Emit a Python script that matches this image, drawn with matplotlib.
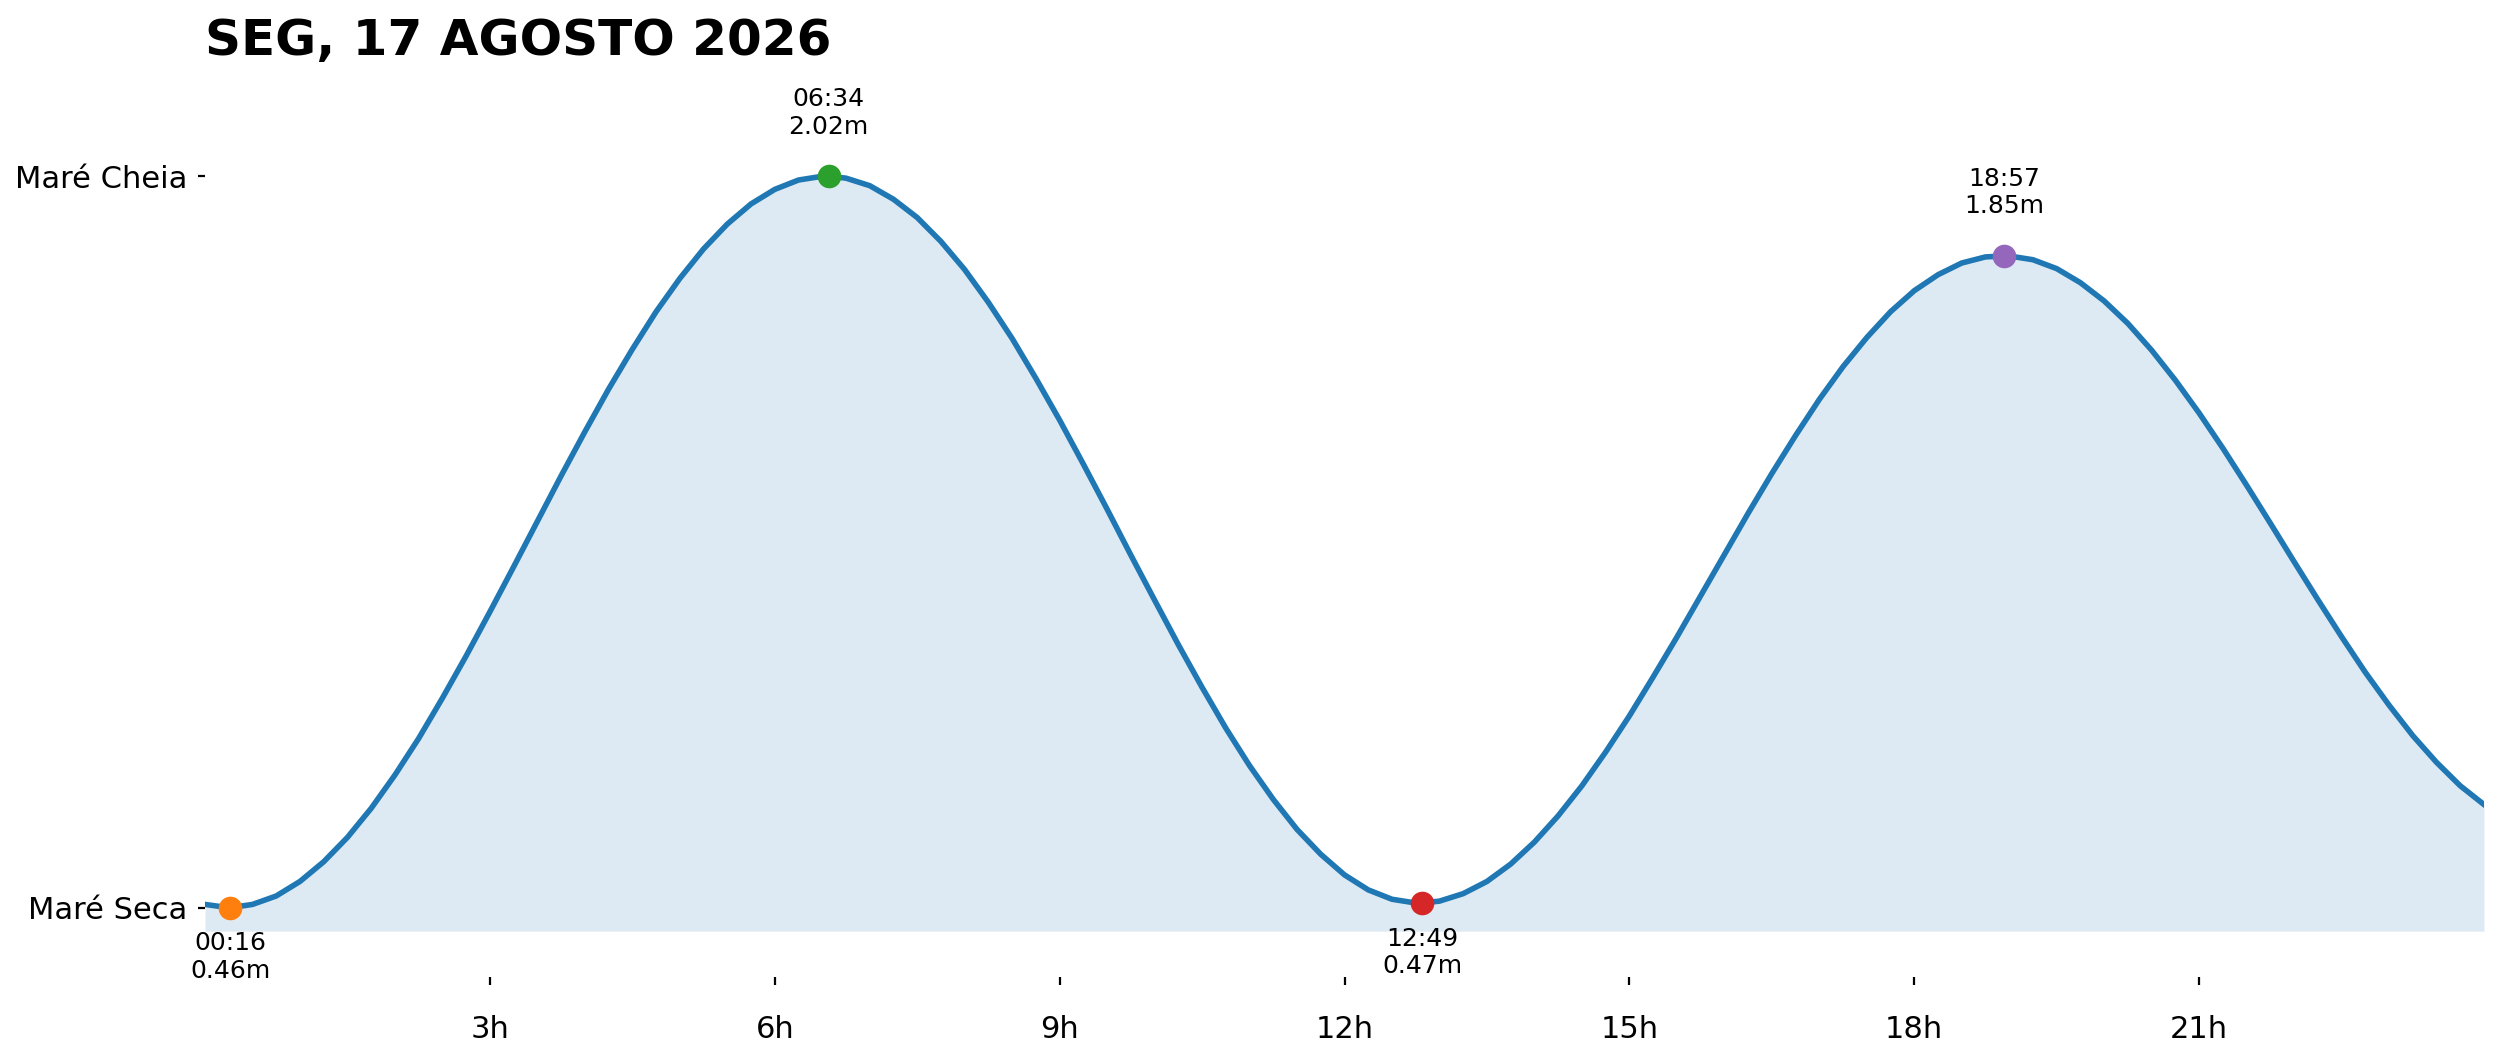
import matplotlib
matplotlib.use("Agg")
import matplotlib.pyplot as plt

# ---- data (every 15 minutes plus the extremes) ----
title = "SEG, 17 AGOSTO 2026"

hours = [0.0, 0.25, 16/60, 0.5, 0.75, 1.0, 1.25, 1.5, 1.75, 2.0, 2.25, 2.5, 2.75, 3.0, 3.25, 3.5, 3.75,
         4.0, 4.25, 4.5, 4.75, 5.0, 5.25, 5.5, 5.75, 6.0, 6.25, 6.5, 6 + 34/60,
         6.75, 7.0, 7.25, 7.5, 7.75, 8.0, 8.25, 8.5, 8.75, 9.0, 9.25, 9.5, 9.75,
         10.0, 10.25, 10.5, 10.75, 11.0, 11.25, 11.5, 11.75, 12.0, 12.25, 12.5, 12.75, 12 + 49/60,
         13.0, 13.25, 13.5, 13.75, 14.0, 14.25, 14.5, 14.75, 15.0, 15.25, 15.5, 15.75,
         16.0, 16.25, 16.5, 16.75, 17.0, 17.25, 17.5, 17.75, 18.0, 18.25, 18.5, 18.75, 18 + 57/60,
         19.0, 19.25, 19.5, 19.75, 20.0, 20.25, 20.5, 20.75, 21.0, 21.25, 21.5, 21.75,
         22.0, 22.25, 22.5, 22.75, 23.0, 23.25, 23.5, 23.75, 24.0]
heights = [0.467, 0.460, 0.460, 0.467, 0.485, 0.516, 0.558, 0.610, 0.672, 0.743, 0.821, 0.907, 0.997, 1.091, 1.187, 1.284, 1.381,
           1.475, 1.566, 1.651, 1.731, 1.802, 1.865, 1.918, 1.961, 1.992, 2.012, 2.020, 2.020,
           2.016, 2.000, 1.971, 1.932, 1.881, 1.821, 1.751, 1.674, 1.589, 1.500, 1.406, 1.310, 1.212,
           1.116, 1.021, 0.930, 0.843, 0.763, 0.691, 0.627, 0.574, 0.530, 0.498, 0.478, 0.470, 0.470,
           0.474, 0.490, 0.516, 0.553, 0.600, 0.656, 0.720, 0.792, 0.869, 0.952, 1.037, 1.125,
           1.213, 1.301, 1.386, 1.467, 1.544, 1.614, 1.676, 1.731, 1.776, 1.810, 1.835, 1.848, 1.850,
           1.850, 1.842, 1.823, 1.793, 1.754, 1.706, 1.649, 1.585, 1.515, 1.440, 1.361, 1.280,
           1.198, 1.117, 1.038, 0.962, 0.892, 0.827, 0.770, 0.720, 0.680]

ext_labels = ["00:16", "06:34", "12:49", "18:57"]
ext_heights = [0.46, 2.02, 0.47, 1.85]
ext_is_high = [False, True, False, True]
ext_colors = ["tab:orange", "tab:green", "tab:red", "tab:purple"]

xtick_vals = [3, 6, 9, 12, 15, 18, 21]
xtick_labels = ["3h", "6h", "9h", "12h", "15h", "18h", "21h"]
ytick_labels = ["Maré Seca", "Maré Cheia"]

# ---- figure ----
W, H = 2501, 1062
fig = plt.figure(figsize=(W / 200, H / 200), dpi=200)
ax_left, ax_right, ax_top, ax_bottom = 205, 2484, 72, 977
ax = fig.add_axes([ax_left / W, (H - ax_bottom) / H, (ax_right - ax_left) / W, (ax_bottom - ax_top) / H])

lo, hi = min(ext_heights), max(ext_heights)
ax.plot(hours, heights, color="tab:blue", lw=2, zorder=2, solid_joinstyle="round")
ax.fill_between(hours, heights, lo - 0.05, color="tab:blue", alpha=0.15, lw=0, zorder=1)

for lab, h, is_high, c in zip(ext_labels, ext_heights, ext_is_high, ext_colors):
    hh, mm = lab.split(":")
    t = int(hh) + int(mm) / 60
    ax.plot([t], [h], "o", color=c, markersize=7.5, zorder=3)
    txt = f"{lab}\n{h:.2f}m"
    if is_high:
        ax.annotate(txt, (t, h), xytext=(0, 13.5), textcoords="offset points",
                    ha="center", va="bottom", fontsize=9, annotation_clip=False)
    else:
        ax.annotate(txt, (t, h), xytext=(0, -8.5), textcoords="offset points",
                    ha="center", va="top", fontsize=9, annotation_clip=False)

ax.set_xlim(0, 24)
ax.set_ylim(0.3122, 2.2424)
ax.set_xticks(xtick_vals)
ax.set_xticklabels(xtick_labels, fontsize=11)
ax.set_yticks([lo, hi])
ax.set_yticklabels(ytick_labels, fontsize=11)
ax.tick_params(axis="x", length=2.8, width=0.8, pad=11)
ax.tick_params(axis="y", length=2.5, width=0.8, pad=3.8)
for s in ax.spines.values():
    s.set_visible(False)

ax.set_title(title, loc="left", fontsize=18, fontweight="bold", pad=6)

fig.savefig("out.png", dpi=200)
